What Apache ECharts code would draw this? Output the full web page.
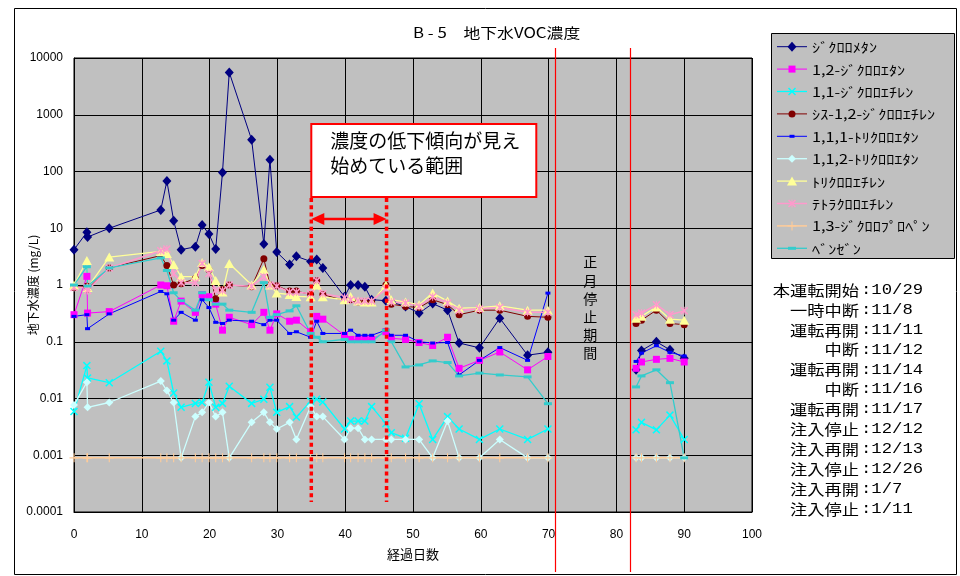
<!DOCTYPE html>
<html>
<head>
<meta charset="utf-8">
<script src="https://cdn.jsdelivr.net/npm/echarts@6/dist/echarts.min.js"></script>
<style>
html,body{margin:0;padding:0;background:#fff}
#chart{width:960px;height:576px}
</style>
</head>
<body>
<div id="chart"></div>
<script>
// Sampling days (elapsed days). The first block runs to day 69.9, the second resumes after the New Year stop.
const days = [0, 1.9, 2, 5.2, 12.8, 13.7, 14.7, 15.8, 17.9, 18.9, 19.9, 20.9, 21.9, 22.9, 26.2, 28, 28.9, 29.9,
  31.8, 32.8, 34.9, 35.8, 36.7, 39.9, 40.8, 41.9, 42.9, 43.9, 46, 46.8, 48.9, 50.9, 52.9, 55.1, 56.8, 59.8,
  62.8, 66.9, 69.9,
  82.9, 83.7, 85.9, 87.9, 90];
const resumeIndex = 39;   // first sample after the stop
const breakDay = 76;      // break in the lines during the stop

// Concentrations (mg/L), one value per sampling day; null = not measured
const dichloromethane = [4.2, 8.5, 7.0, 10, 21, 68, 13.6, 4.2, 4.7, 11.4, 7.9, 4.3, 96, 5570, 363, 5.3, 161, 3.8,
  2.3, 3.2, 2.6, 2.8, 2.0, 0.62, 1.0, 1.0, 0.93, 0.55, 0.53, 0.5, 0.42, 0.32, 0.47, 0.36, 0.095, 0.078,
  0.26, 0.058, 0.065,
  0.032, 0.07, 0.1, 0.072, 0.051];
const dichloroethane12 = [0.30, 1.42, 0.32, 0.34, 1.0, 0.97, 0.23, 0.52, 0.33, 0.68, 0.62, 0.46, 0.16, 0.27, 0.20, 0.33, 0.16, 0.31,
  0.23, 0.24, 0.15, 0.28, 0.25, 0.13, 0.11, 0.11, 0.11, 0.11, 0.15, 0.115, 0.11, 0.097, 0.086, 0.12, 0.034, 0.047,
  0.066, 0.032, 0.055,
  0.034, 0.044, 0.049, 0.051, 0.044];
const dichloroethylene11 = [0.0059, 0.038, 0.023, 0.019, 0.068, 0.046, 0.0125, 0.0070, 0.0082, 0.0085, 0.0193, 0.0070, 0.0082, 0.0164, 0.0082, 0.0097, 0.0158, 0.0057,
  0.0072, 0.0047, 0.009, 0.0097, 0.0087, 0.0029, 0.0040, 0.0040, 0.0040, 0.0072, 0.0036, 0.0025, 0.0020, 0.0081, 0.0019, 0.0048, 0.0029, 0.0019,
  0.0029, 0.0019, 0.0029,
  0.0028, 0.0038, 0.0028, 0.0051, 0.0019];
const cisDichloroethylene = [0.9, 0.95, 0.85, 2.0, 3.3, 2.2, 1.0, 1.05, 1.3, 2.2, 1.86, 0.57, 0.83, 1.0, 0.93, 2.9, 1.0, 0.97,
  0.78, 0.78, 0.68, 1.19, 0.68, 0.53, 0.55, 0.5, 0.5, 0.5, 1.0, 0.46, 0.42, 0.40, 0.55, 0.45, 0.30, 0.36,
  0.36, 0.28, 0.27,
  0.21, 0.24, 0.36, 0.21, 0.20];
const trichloroethane111 = [0.28, 0.30, 0.17, 0.31, 0.77, 0.7, 0.24, 0.33, 0.24, 0.55, 0.40, 0.22, 0.21, 0.24, 0.23, 0.2, 0.24, 0.24,
  0.14, 0.15, 0.12, 0.23, 0.14, 0.14, 0.16, 0.13, 0.13, 0.13, 0.16, 0.13, 0.13, 0.10, 0.095, 0.097, 0.026, 0.047,
  0.079, 0.047, 0.72,
  0.045, 0.063, 0.085, 0.065, 0.056];
const trichloroethane112 = [0.0077, 0.0193, 0.0070, 0.0085, 0.0203, 0.0138, 0.0085, 0.0009, 0.0048, 0.0057, 0.0085, 0.0048, 0.0057, 0.0009, 0.0038, 0.0057, 0.0038, 0.0029,
  0.0038, 0.0019, 0.0072, 0.0048, 0.0048, 0.0019, 0.0030, 0.0030, 0.0019, 0.0019, 0.0019, 0.0019, 0.0019, 0.0019, 0.0009, 0.0040, 0.0009, 0.0009,
  0.0019, 0.0009, 0.0009,
  0.0009, 0.0009, 0.0009, 0.0009, 0.0009];
const trichloroethylene = [1.0, 2.7, 0.9, 3.1, 3.9, 3.6, 2.3, 1.4, 1.4, 2.5, 2.1, 1.2, 0.75, 2.4, 1.0, 1.87, 1.0, 0.72,
  0.68, 0.63, 0.62, 1.0, 0.62, 0.55, 0.63, 0.52, 0.5, 0.5, 1.0, 0.55, 0.5, 0.45, 0.72, 0.52, 0.39, 0.40,
  0.43, 0.36, 0.36,
  0.26, 0.28, 0.41, 0.25, 0.24];
const tetrachloroethylene = [0.9, 0.9, 0.8, 2.0, 4.0, 4.3, 1.6, 1.1, 1.1, 2.4, 1.6, 0.8, 0.8, 1.0, 0.95, 1.4, 1.0, 0.95,
  0.75, 0.75, 0.7, 1.2, 0.7, 0.6, 0.55, 0.52, 0.52, 0.52, 0.85, 0.5, 0.48, 0.42, 0.62, 0.48, 0.36, 0.38,
  0.40, 0.33, 0.33,
  0.30, 0.32, 0.45, 0.30, 0.35];
const dichloropropene13 = [0.0009, 0.0009, 0.0009, 0.0009, 0.0009, 0.0009, 0.0009, 0.0009, 0.0009, 0.0009, 0.0009, 0.0009, 0.0009, 0.0009, 0.0009, 0.0009, 0.0009, 0.0009,
  0.0009, 0.0009, 0.0009, 0.0009, 0.0009, 0.0009, 0.0009, 0.0009, 0.0009, 0.0009, 0.0009, 0.0009, 0.0009, 0.0009, 0.0009, 0.0009, 0.0009, 0.0009,
  0.0009, 0.0009, 0.0009,
  0.0009, 0.0009, 0.0009, 0.0009, 0.0009];
const benzene = [1.0, 2.1, 0.96, 2.0, 3.0, 1.8, 0.73, 0.53, 0.36, 0.73, 0.55, 0.46, 0.46, 0.36, 0.33, 1.1, 0.27, 0.30,
  0.35, 0.43, 0.14, 0.12, 0.10, 0.11, 0.10, 0.1, 0.1, 0.1, 0.16, 0.1, 0.036, 0.039, 0.046, 0.043, 0.025, 0.028,
  0.026, 0.024, 0.0081,
  0.016, 0.025, 0.032, 0.019, 0.0009];

const seriesNames = ['ｼﾞｸﾛﾛﾒﾀﾝ', '1,2-ｼﾞｸﾛﾛｴﾀﾝ', '1,1-ｼﾞｸﾛﾛｴﾁﾚﾝ', 'ｼｽ-1,2-ｼﾞｸﾛﾛｴﾁﾚﾝ', '1,1,1-ﾄﾘｸﾛﾛｴﾀﾝ',
  '1,1,2-ﾄﾘｸﾛﾛｴﾀﾝ', 'ﾄﾘｸﾛﾛｴﾁﾚﾝ', 'ﾃﾄﾗｸﾛﾛｴﾁﾚﾝ', '1,3-ｼﾞｸﾛﾛﾌﾟﾛﾍﾟﾝ', 'ﾍﾞﾝｾﾞﾝ'];
const seriesValues = [dichloromethane, dichloroethane12, dichloroethylene11, cisDichloroethylene, trichloroethane111,
  trichloroethane112, trichloroethylene, tetrachloroethylene, dichloropropene13, benzene];

const yTickLabels = ['0.0001', '0.001', '0.01', '0.1', '1', '10', '100', '1000', '10000'];
const xTicks = [0, 10, 20, 30, 40, 50, 60, 70, 80, 90, 100];

const eventLabels = ['本運転開始', '一時中断', '運転再開', '中断', '運転再開', '中断', '運転再開',
  '注入停止', '注入再開', '注入停止', '注入再開', '注入停止'];
const eventDates = ['10/29', '11/8', '11/11', '11/12', '11/14', '11/16', '11/17',
  '12/12', '12/13', '12/26', '1/7', '1/11'];

// Days bounding the "decreasing trend" window and the New Year stop
const trendWindow = [35, 46.1];
const stopWindow = [70.9, 82];

// Marker outlines on a 10x10 box
const crossPoly = [[0, 1.3], [1.3, 0], [5, 3.7], [8.7, 0], [10, 1.3], [6.3, 5], [10, 8.7], [8.7, 10], [5, 6.3], [1.3, 10], [0, 8.7], [3.7, 5]];
const plusPoly = [[4.4, 0], [5.6, 0], [5.6, 4.4], [10, 4.4], [10, 5.6], [5.6, 5.6], [5.6, 10], [4.4, 10], [4.4, 5.6], [0, 5.6], [0, 4.4], [4.4, 4.4]];
const barPoly = [[4.4, 0], [5.6, 0], [5.6, 10], [4.4, 10]];
function polysToPath(polys) {
  return 'path://' + polys.map(p => 'M' + p.map(q => q.join(',')).join('L') + 'Z').join(' ');
}

const styles = [
  { color: '#000080', symbol: 'diamond', size: [9, 10], width: 1 },
  { color: '#FF00FF', symbol: 'rect', size: [7, 7], width: 1 },
  { color: '#00FFFF', polys: [crossPoly], size: [8, 8], width: 1.3 },
  { color: '#800000', symbol: 'circle', size: [7, 7], width: 1 },
  { color: '#0000FF', symbol: 'rect', size: [5, 3], width: 1 },
  { color: '#CCFFFF', symbol: 'diamond', size: [8, 8], width: 1.3 },
  { color: '#FFFF99', symbol: 'triangle', size: [10, 9], width: 1.3 },
  { color: '#FF99CC', polys: [crossPoly, barPoly], size: [8, 8], width: 1.5 },
  { color: '#FFCC99', polys: [plusPoly], size: [9, 9], width: 1.5 },
  { color: '#33CCCC', symbol: 'rect', size: [8, 3], width: 1.3 }
];
styles.forEach(s => { if (s.polys) s.symbol = polysToPath(s.polys); });

function buildSeriesData(vals) {
  const out = [];
  for (let i = 0; i < days.length; i++) {
    if (i === resumeIndex) out.push([breakDay, '-']);
    if (vals[i] != null) out.push([days[i], vals[i]]);
  }
  return out;
}

const jpFont = '"Noto Sans CJK JP", "Noto Sans", sans-serif';
const numFont = '"Liberation Sans", Arial, sans-serif';
const monoFont = '"Liberation Mono", "DejaVu Sans Mono", monospace';

const chart = echarts.init(document.getElementById('chart'), null, { renderer: 'canvas' });

const series = seriesNames.map((name, i) => ({
  name,
  type: 'line',
  data: buildSeriesData(seriesValues[i]),
  symbol: styles[i].symbol,
  symbolSize: styles[i].size,
  showAllSymbol: true,
  connectNulls: false,
  animation: false,
  lineStyle: { color: styles[i].color, width: styles[i].width },
  itemStyle: { color: styles[i].color, borderWidth: 0 },
  emphasis: { disabled: true }
}));

chart.setOption({
  animation: false,
  backgroundColor: '#FFFFFF',
  legend: { show: false },
  grid: {
    left: 74, right: 208, top: 58, bottom: 64,
    containLabel: false, outerBoundsMode: 'none',
    show: true, backgroundColor: '#C0C0C0', borderColor: '#000', borderWidth: 1
  },
  xAxis: {
    type: 'value', min: xTicks[0], max: xTicks[xTicks.length - 1], interval: 10,
    name: '経過日数', nameLocation: 'middle', nameGap: 36, nameMoveOverlap: false,
    nameTextStyle: { fontFamily: jpFont, fontSize: 13, color: '#000' },
    axisLine: { lineStyle: { color: '#000' } },
    axisTick: { show: false },
    axisLabel: { fontFamily: numFont, fontSize: 12, color: '#000', margin: 17 },
    splitLine: { show: true, lineStyle: { color: '#000', width: 1 } }
  },
  yAxis: {
    type: 'log', logBase: 10, min: 0.0001, max: 10000,
    name: '地下水濃度 (mg/L)', nameLocation: 'middle', nameGap: 35, nameRotate: 90, nameMoveOverlap: false,
    nameTextStyle: { fontFamily: jpFont, fontSize: 12, color: '#000' },
    axisLine: { lineStyle: { color: '#000' } },
    axisTick: { show: false },
    axisLabel: {
      fontFamily: numFont, fontSize: 12, color: '#000', margin: 11,
      formatter: v => yTickLabels[Math.round(Math.log10(v)) + 4] || ''
    },
    splitLine: { show: true, lineStyle: { color: '#000', width: 1 } }
  },
  series
});

// Annotations placed from data coordinates
function px(day, val) { return chart.convertToPixel({ gridIndex: 0 }, [day, val]); }
const gridTop = px(0, 10000)[1];

const graphics = [];
const stretch = 1.15;   // horizontally widened lettering

// Outer chart frame
graphics.push({ type: 'rect', shape: { x: 14.5, y: 8.5, width: 942, height: 566 },
  style: { fill: null, stroke: '#000', lineWidth: 1 }, silent: true, z: 0 });

// Title
graphics.push({ type: 'text', x: 413, y: 33, scaleX: 1.2,
  style: { text: 'B - 5\u3000地下水VOC濃度', fontFamily: jpFont, fontSize: 14, fill: '#000',
    align: 'left', verticalAlign: 'middle' }, silent: true });

// Legend
graphics.push({ type: 'rect', shape: { x: 771.5, y: 33.5, width: 183, height: 225 },
  style: { fill: '#C0C0C0', stroke: '#000', lineWidth: 1 }, silent: true, z: 1 });
function legendSymbols(s, cx, cy) {
  const w = s.size[0], h = s.size[1];
  const style = { fill: s.color };
  if (s.polys)
    return s.polys.map(p => ({ type: 'polygon',
      shape: { points: p.map(q => [cx - w / 2 + q[0] * w / 10, cy - h / 2 + q[1] * h / 10]) }, style }));
  if (s.symbol === 'diamond')
    return [{ type: 'polygon', shape: { points: [[cx, cy - h / 2], [cx + w / 2, cy], [cx, cy + h / 2], [cx - w / 2, cy]] }, style }];
  if (s.symbol === 'rect')
    return [{ type: 'rect', shape: { x: cx - w / 2, y: cy - h / 2, width: w, height: h }, style }];
  if (s.symbol === 'circle')
    return [{ type: 'circle', shape: { cx, cy, r: w / 2 }, style }];
  return [{ type: 'polygon', shape: { points: [[cx, cy - h / 2], [cx + w / 2, cy + h / 2], [cx - w / 2, cy + h / 2]] }, style }];
}
seriesNames.forEach((name, i) => {
  const cy = 46.7 + i * 22.4;
  const s = styles[i];
  graphics.push({ type: 'line', shape: { x1: 777, y1: cy, x2: 807, y2: cy },
    style: { stroke: s.color, lineWidth: Math.max(1, s.width) }, silent: true, z: 2 });
  legendSymbols(s, 792, cy).forEach(el => graphics.push(Object.assign(el, { silent: true, z: 3 })));
  graphics.push({ type: 'text', x: 812, y: cy + 0.5, scaleX: 1.25,
    style: { text: name, fontFamily: jpFont, fontSize: 13, fill: '#000', align: 'left', verticalAlign: 'middle' },
    silent: true, z: 3 });
});

// New Year stop boundaries
stopWindow.forEach(d => {
  const x = Math.round(px(d, 1)[0]) + 0.5;
  graphics.push({ type: 'line', shape: { x1: x, y1: gridTop - 10, x2: x, y2: 572 },
    style: { stroke: '#FF0000', lineWidth: 1.2 }, silent: true, z: 50 });
});
const stopMid = (px(stopWindow[0], 1)[0] + px(stopWindow[1], 1)[0]) / 2;
graphics.push({ type: 'text', x: stopMid - 2, y: 253,
  style: { text: '正\n月\n停\n止\n期\n間', fontFamily: jpFont, fontSize: 14, lineHeight: 18.2,
    fill: '#000', align: 'center' }, silent: true, z: 50 });

// Window of decreasing trend: dotted bounds and a double arrow
const x1 = px(trendWindow[0], 1)[0];
const x2 = px(trendWindow[1], 1)[0];
[x1, x2].forEach(x => {
  graphics.push({ type: 'line', shape: { x1: x, y1: 198, x2: x, y2: 502 },
    style: { stroke: '#FF0000', lineWidth: 3.5, lineDash: [4, 3.2] }, silent: true, z: 60 });
});
const ay = 219;
graphics.push({ type: 'line', shape: { x1: x1 + 8, y1: ay, x2: x2 - 8, y2: ay },
  style: { stroke: '#FF0000', lineWidth: 2.5 }, silent: true, z: 60 });
graphics.push({ type: 'polygon', shape: { points: [[x1, ay], [x1 + 13, ay - 6], [x1 + 13, ay + 6]] },
  style: { fill: '#FF0000' }, silent: true, z: 60 });
graphics.push({ type: 'polygon', shape: { points: [[x2, ay], [x2 - 13, ay - 6], [x2 - 13, ay + 6]] },
  style: { fill: '#FF0000' }, silent: true, z: 60 });

// Text box describing the window
graphics.push({ type: 'rect', shape: { x: x1, y: 124, width: 225, height: 73 },
  style: { fill: '#FFFFFF', stroke: '#FF0000', lineWidth: 2 }, silent: true, z: 70 });
graphics.push({ type: 'text', x: x1 + 19, y: 128,
  style: { text: '濃度の低下傾向が見え\n始めている範囲', fontFamily: jpFont, fontSize: 19, lineHeight: 25,
    fill: '#000' }, silent: true, z: 71 });

// Operation history
eventLabels.forEach((label, i) => {
  const y = 290 + i * 19.9;
  graphics.push({ type: 'text', x: 859, y, scaleX: stretch, style: { text: label, fontFamily: jpFont, fontSize: 15,
    fill: '#000', align: 'right', verticalAlign: 'middle' }, silent: true });
  graphics.push({ type: 'text', x: 861, y, scaleX: stretch, style: { text: ':' + eventDates[i], fontFamily: monoFont, fontSize: 15,
    fill: '#000', align: 'left', verticalAlign: 'middle' }, silent: true });
});

chart.setOption({ graphic: { elements: graphics } });
</script>
</body>
</html>
